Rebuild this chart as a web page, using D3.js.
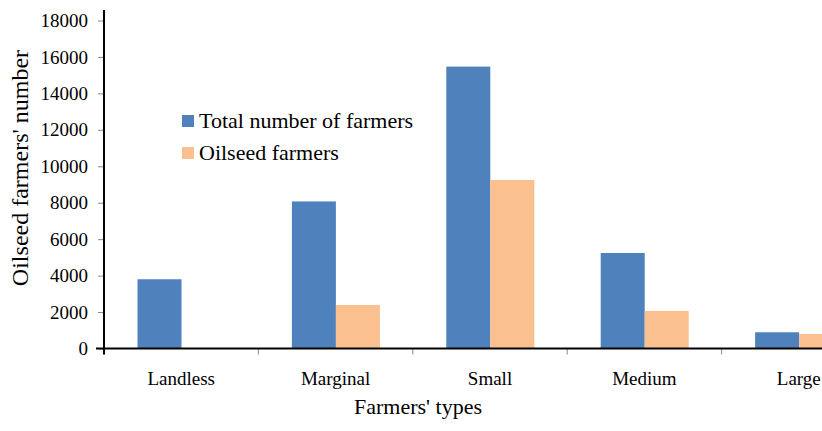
<!DOCTYPE html>
<html>
<head>
<meta charset="utf-8">
<script src="https://cdn.jsdelivr.net/npm/d3@7"></script>
<style>
  html, body { margin: 0; padding: 0; background: #fff; overflow: hidden; }
</style>
</head>
<body>
<svg id="chart" width="822" height="431"></svg>
<script>
// Farmer categories and the two series plotted for each
const categories = ["Landless", "Marginal", "Small", "Medium", "Large"];
const seriesNames = ["Total number of farmers", "Oilseed farmers"];
const totalFarmers = [3800, 8070, 15470, 5240, 890];
const oilseedFarmers = [0, 2390, 9250, 2060, 800];
const yTicks = [0, 2000, 4000, 6000, 8000, 10000, 12000, 14000, 16000, 18000];
const colors = ["#4F81BD", "#FAC090"];

const FONT = "Liberation Serif";
const svg = d3.select("#chart");
const W = 822, H = 431;

// Plot frame: the category axis runs past the right edge and is clipped there
const x0 = 104, step = 154.4;
const yBottom = 348.5, yTop = 20.5;

const x = d3.scaleBand()
  .domain(categories)
  .range([x0, x0 + step * categories.length])
  .padding(0);

const xInner = d3.scaleBand()
  .domain(seriesNames)
  .range([33.5, 33.5 + 88])
  .padding(0);

const y = d3.scaleLinear().domain([0, 18000]).range([yBottom, yTop]);

const values = [totalFarmers, oilseedFarmers];

// Bars
const groups = svg.append("g")
  .selectAll("g")
  .data(categories)
  .join("g")
  .attr("transform", d => `translate(${x(d)},0)`);

groups.selectAll("rect")
  .data((c, i) => seriesNames.map((s, k) => ({ s, k, v: values[k][i] })))
  .join("rect")
  .filter(d => d.v > 0)
  .attr("x", d => xInner(d.s))
  .attr("width", xInner.bandwidth())
  .attr("y", d => y(d.v))
  .attr("height", d => yBottom - y(d.v))
  .attr("fill", d => colors[d.k]);

// Y axis: gray tick marks, labels to the left
const yAxis = svg.append("g")
  .attr("transform", `translate(${x0},0)`)
  .call(d3.axisLeft(y).tickValues(yTicks).tickSize(6).tickPadding(10).tickFormat(d3.format("d")));
yAxis.select(".domain").remove();
yAxis.selectAll(".tick line").attr("stroke", "#888").attr("stroke-width", 1);
yAxis.selectAll(".tick text")
  .style("font-family", FONT)
  .style("font-size", "19px")
  .attr("fill", "#000");

// X axis: category boundary ticks below the baseline
const boundaries = d3.range(categories.length + 1).map(i => x0 + i * step);
svg.append("g")
  .selectAll("line")
  .data(boundaries)
  .join("line")
  .attr("x1", d => d).attr("x2", d => d)
  .attr("y1", yBottom).attr("y2", yBottom + 6)
  .attr("stroke", "#888").attr("stroke-width", 1);

svg.append("g")
  .selectAll("text")
  .data(categories)
  .join("text")
  .attr("x", d => x(d) + x.bandwidth() / 2)
  .attr("y", 385)
  .attr("text-anchor", "middle")
  .style("font-family", FONT)
  .style("font-size", "19px")
  .attr("fill", "#000")
  .text(d => d);

// Axis lines
svg.append("line")
  .attr("x1", x0).attr("x2", x0)
  .attr("y1", 10).attr("y2", yBottom + 6)
  .attr("stroke", "#000").attr("stroke-width", 2);
svg.append("line")
  .attr("x1", 96).attr("x2", W)
  .attr("y1", yBottom).attr("y2", yBottom)
  .attr("stroke", "#000").attr("stroke-width", 2);

// Axis titles
svg.append("text")
  .attr("x", 418).attr("y", 414)
  .attr("text-anchor", "middle")
  .style("font-family", FONT)
  .style("font-size", "22px")
  .attr("fill", "#000")
  .text("Farmers' types");

svg.append("text")
  .attr("transform", "translate(28,168) rotate(-90)")
  .attr("text-anchor", "middle")
  .style("font-family", FONT)
  .style("font-size", "24px")
  .attr("fill", "#000")
  .text("Oilseed farmers' number");

// Legend
const legend = svg.append("g")
  .selectAll("g")
  .data(seriesNames)
  .join("g")
  .attr("transform", (d, i) => `translate(182,${115 + i * 32})`);
legend.append("rect")
  .attr("width", 12).attr("height", 12)
  .attr("fill", (d, i) => colors[i]);
legend.append("text")
  .attr("x", 17).attr("y", 12.5)
  .style("font-family", FONT)
  .style("font-size", "22px")
  .attr("fill", "#000")
  .text(d => d);
</script>
</body>
</html>
